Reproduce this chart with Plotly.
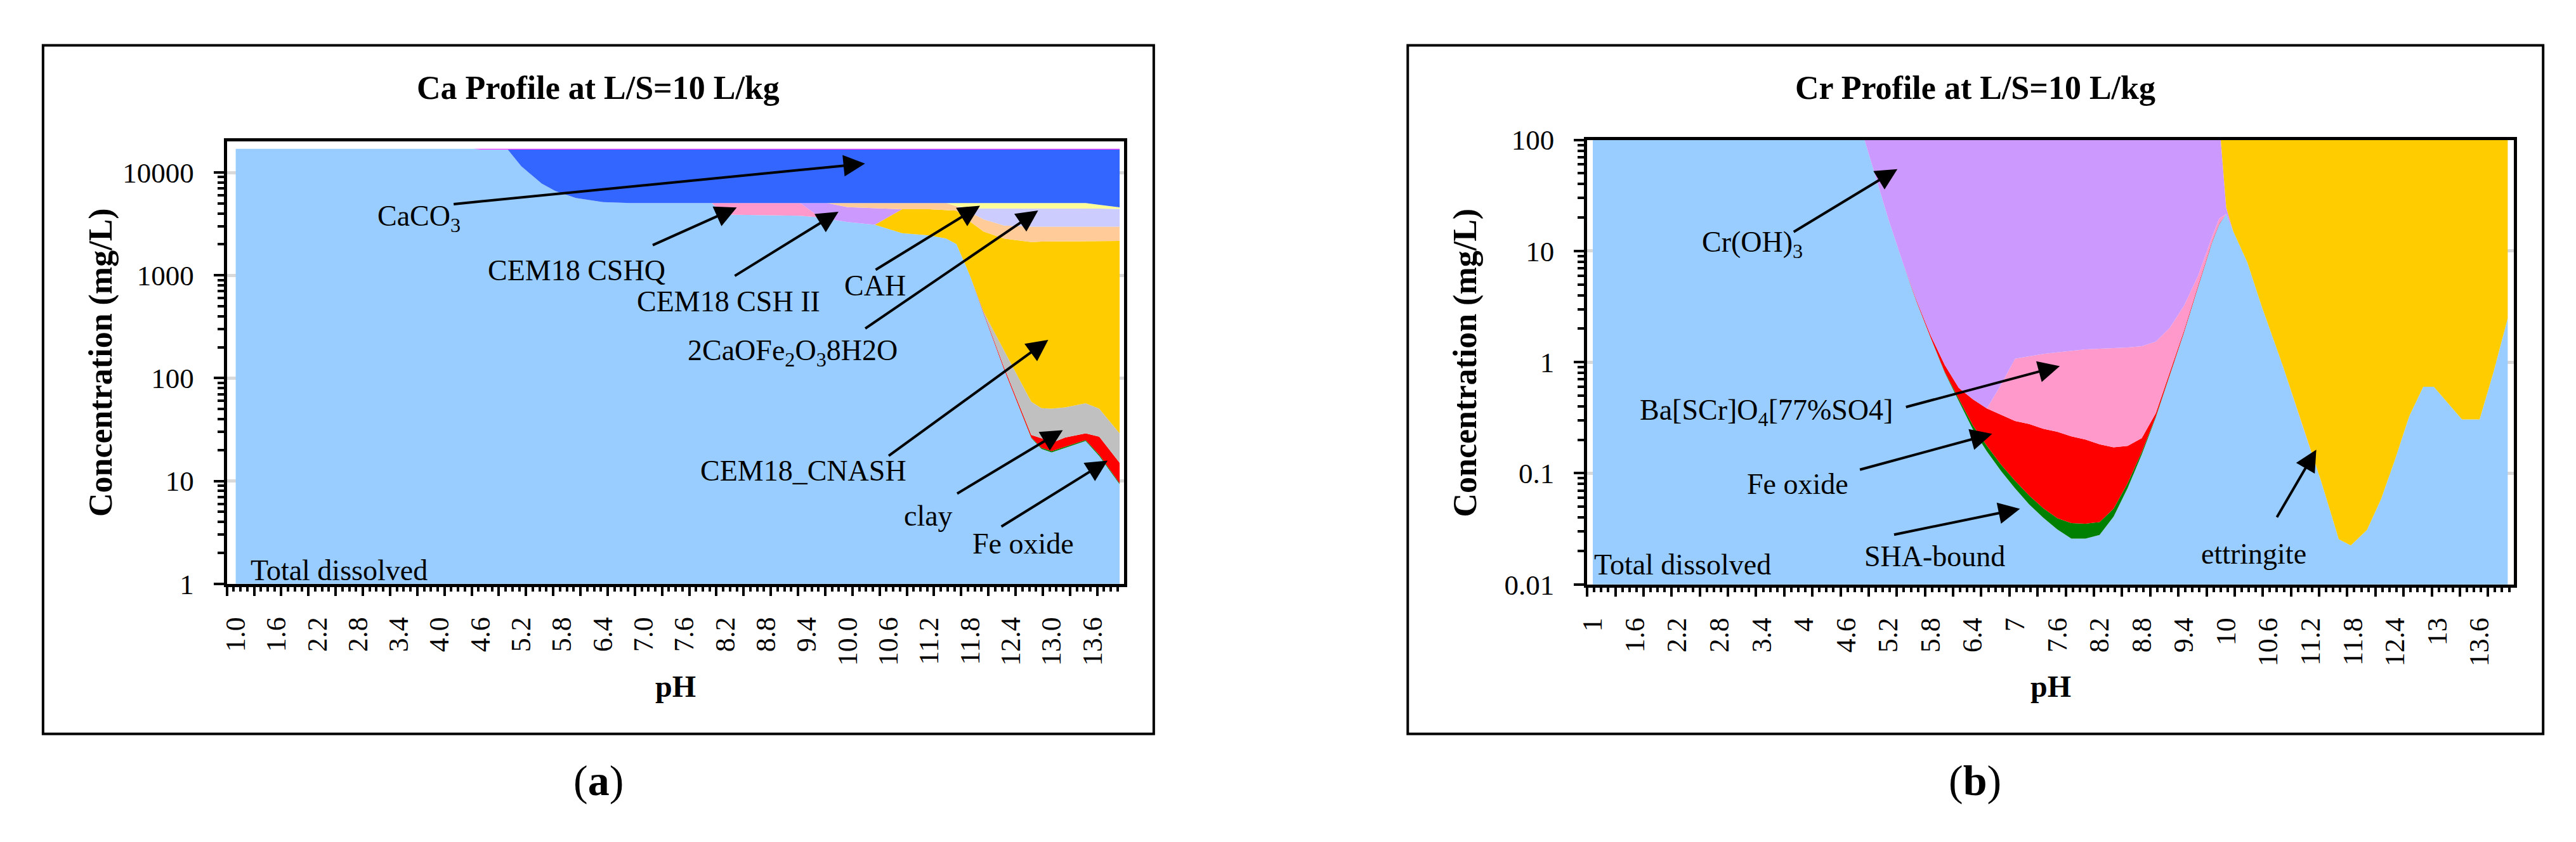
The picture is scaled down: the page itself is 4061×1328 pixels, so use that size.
import plotly.graph_objects as go

PAGE_W, PAGE_H = 4061, 1328
BODY = 8                      # default page margin around the plotly div
W, H = PAGE_W - 2 * BODY, PAGE_H - 2 * BODY
FONT = "Liberation Serif"

# ---------------- Panel (a): Ca profile at L/S=10 L/kg (mg/L, stacked) ----------------
ph_a = [1.0, 4.5, 4.6, 5.0, 5.2, 5.5, 5.7, 6.0, 6.4, 6.8, 8.0, 8.2, 9.3, 9.6, 9.7,
        10.0, 10.4, 10.8, 11.2, 11.45, 11.6, 11.8, 12.0, 12.3, 12.7, 12.85, 13.0,
        13.2, 13.5, 13.7, 14.0]
ca_dissolved = [17000, 17000, 16750, 16750, 11500, 7800, 6600, 5650, 5150, 5050,
                5050, 3900, 3800, 3650, 3550, 3300, 3100, 2570, 2450, 2280,
                2010, 990, 425, 122, 26.2, 20.5, 19, 21, 24.5, 17.5, 9.3]
ca_sha = [0, 0, 0, 0, 0, 0, 0, 0, 0, 0, 0, 0, 0, 0, 0, 0, 0, 0, 0, 0, 0, 0, 0, 0,
          0.3, 0.5, 0.5, 0.5, 0.5, 0.5, 0.2]
ca_fe_oxide = [0, 0, 0, 0, 0, 0, 0, 0, 0, 0, 0, 0, 0, 0, 0, 0, 0, 0, 0, 0, 0, 0,
               10, 5, 1.5, 5, 4, 5, 4, 9, 5.5]
ca_clay = [0, 0, 0, 0, 0, 0, 0, 0, 0, 0, 0, 0, 0, 0, 0, 0, 0, 0, 0, 0, 0, 0,
           5, 58, 31, 25, 27, 25.5, 28, 23.5, 14]
ca_cnash = [0, 0, 0, 0, 0, 0, 0, 0, 0, 0, 0, 0, 0, 0, 0, 0, 0,
            1820, 1940, 2050, 2250, 2340, 2220, 2095, 2051, 2079, 2080, 2078, 2083, 2100, 2131]
ca_cshq = [0, 0, 0, 0, 0, 0, 0, 0, 0, 0, 0, 1150, 1250,
           0, 0, 0, 0, 0, 0, 0, 0, 0, 0, 0, 0, 0, 0, 0, 0, 0, 0]
ca_csh2 = [0, 0, 0, 0, 0, 0, 0, 0, 0, 0, 0, 0, 0, 1400, 1500, 1300, 1380,
           0, 0, 0, 0, 0, 0, 0, 0, 0, 0, 0, 0, 0, 0]
ca_other = [0, 0, 0, 0, 0, 0, 0, 0, 0, 0, 0, 0, 0, 0, 0,
            450, 570, 660, 660, 720, 440, 770, 840, 770, 860, 840, 840, 840, 830, 820, 810]
ca_c2f = [0, 0, 0, 0, 0, 0, 0, 0, 0, 0, 0, 0, 0, 0, 0, 0, 0, 0, 0, 0, 0,
          380, 980, 1430, 1510, 1510, 1510, 1510, 1510, 1480, 1460]
ca_cah = [0, 0, 0, 0, 0, 0, 0, 0, 0, 0, 0, 0, 0, 0, 0, 0, 0, 0, 0, 0,
          350, 570, 570, 570, 570, 570, 570, 570, 570, 400, 150]
ca_caco3 = [0, 0, 0, 0, 5250, 8950, 10150, 11100, 11600, 11700,
            11700, 11700, 11700, 11700, 11700, 11700, 11700, 11700, 11700, 11700,
            11700, 11700, 11700, 11700, 11700, 11700, 11700, 11700, 11700, 11900, 12170]
ca_minor = [0, 0, 250, 250, 250, 250, 250, 250, 250, 250, 250, 250, 250, 250, 250, 250,
            250, 250, 250, 250, 250, 250, 250, 250, 250, 250, 250, 250, 250, 250, 250]

ca_layers = [
    ("Total dissolved", ca_dissolved, "#99CCFF"),
    ("SHA-bound", ca_sha, "#008000"),
    ("Fe oxide", ca_fe_oxide, "#FF0000"),
    ("clay", ca_clay, "#C0C0C0"),
    ("CEM18_CNASH", ca_cnash, "#FFCC00"),
    ("CEM18 CSHQ", ca_cshq, "#FF99CC"),
    ("CEM18 CSH II", ca_csh2, "#CC99FF"),
    ("other", ca_other, "#FFCC99"),
    ("2CaOFe2O38H2O", ca_c2f, "#CCCCFF"),
    ("CAH", ca_cah, "#FFFF99"),
    ("CaCO3", ca_caco3, "#3366FF"),
    ("minor", ca_minor, "#FF00FF"),
]

# ---------------- Panel (b): Cr profile at L/S=10 L/kg (mg/L, stacked) ----------------
ph_b = [1.0, 4.7, 4.86, 5.0, 5.2, 5.4, 5.6, 5.8, 6.0, 6.2, 6.4, 6.6, 6.8, 7.0, 7.2, 7.4,
        7.6, 7.8, 8.0, 8.2, 8.4, 8.6, 8.8, 9.0, 9.2, 9.4, 9.6, 9.8, 9.9, 10.0, 10.1,
        10.3, 10.5, 10.8, 11.1, 11.35, 11.6, 11.77, 12.0, 12.2, 12.4, 12.6, 12.8,
        12.95, 13.35, 13.6, 13.8, 14.0]
cr_dissolved = [150, 150, 100, 51.3, 19.3, 8.0, 3.5, 1.66, 0.807, 0.446,
                0.248, 0.157, 0.105, 0.0731, 0.0525, 0.0398, 0.0313, 0.0258, 0.0258, 0.0279,
                0.0408, 0.0739, 0.1476, 0.319, 0.778, 1.85, 4.75, 12.05, 17.4, 21.5,
                15.0, 7.9, 3.23, 0.944, 0.249, 0.0843, 0.0255, 0.0224, 0.0309, 0.0586,
                0.134, 0.326, 0.601, 0.601, 0.305, 0.305, 0.822, 2.48]
cr_sha = [0, 0, 0, 0, 0, 0, 0, 0,
          0.010, 0.020, 0.022, 0.0196, 0.0149, 0.0126, 0.0105, 0.0088, 0.0082, 0.0098,
          0.0094, 0.0085, 0.0072, 0.0076, 0.0076, 0.0046,
          0, 0, 0, 0, 0, 0, 0, 0, 0, 0, 0, 0, 0, 0, 0, 0, 0, 0, 0, 0, 0, 0, 0, 0]
cr_fe_oxide = [0, 0, 0, 0, 0, 0,
               0.08, 0.08, 0.126, 0.121, 0.193, 0.206, 0.217, 0.210, 0.214, 0.203, 0.197,
               0.179, 0.166, 0.146, 0.123, 0.095, 0.052, 0.024, 0.04, 0.069, 0.137, 0.22, 0.22,
               0, 0, 0, 0, 0, 0, 0, 0, 0, 0, 0, 0, 0, 0, 0, 0, 0, 0, 0, 0]
cr_ba_scro4 = [0, 0, 0, 0, 0, 0, 0, 0, 0, 0, 0, 0,
               0.289, 0.778, 0.853, 0.931, 0.986, 1.048, 1.102, 1.136, 1.166, 1.178, 1.183,
               1.184, 1.228, 1.295, 1.1, 1.2, 1.92,
               0, 0, 0, 0, 0, 0, 0, 0, 0, 0, 0, 0, 0, 0, 0, 0, 0, 0, 0, 0]
cr_cr_oh3 = [0, 0, 50, 99, 131, 142, 146, 148, 149,
             149, 149, 149, 149, 149, 149, 149, 149, 149, 149, 149, 149, 149, 149, 149,
             148, 147, 144, 136, 130, 3,
             0, 0, 0, 0, 0, 0, 0, 0, 0, 0, 0, 0, 0, 0, 0, 0, 0, 0]
cr_ettringite = [0, 0, 0, 0, 0, 0, 0, 0, 0, 0, 0, 0, 0, 0, 0, 0, 0, 0, 0, 0, 0, 0, 0, 0,
                 0, 0, 0, 0, 0, 126, 135, 142, 147,
                 149, 149, 149, 149, 149, 149, 149, 149, 149, 149, 149, 149, 149, 149, 149, 148]

cr_layers = [
    ("Total dissolved", cr_dissolved, "#99CCFF"),
    ("SHA-bound", cr_sha, "#008000"),
    ("Fe oxide", cr_fe_oxide, "#FF0000"),
    ("Ba[SCr]O4[77%SO4]", cr_ba_scro4, "#FF99CC"),
    ("Cr(OH)3", cr_cr_oh3, "#CC99FF"),
    ("ettringite", cr_ettringite, "#FFCC00"),
]

# x tick labels
tick_ph = [1.0, 1.6, 2.2, 2.8, 3.4, 4.0, 4.6, 5.2, 5.8, 6.4, 7.0, 7.6, 8.2, 8.8, 9.4,
           10.0, 10.6, 11.2, 11.8, 12.4, 13.0, 13.6]
ticktext_a = ["1.0", "1.6", "2.2", "2.8", "3.4", "4.0", "4.6", "5.2", "5.8", "6.4", "7.0",
              "7.6", "8.2", "8.8", "9.4", "10.0", "10.6", "11.2", "11.8", "12.4", "13.0", "13.6"]
ticktext_b = ["1", "1.6", "2.2", "2.8", "3.4", "4", "4.6", "5.2", "5.8", "6.4", "7",
              "7.6", "8.2", "8.8", "9.4", "10", "10.6", "11.2", "11.8", "12.4", "13", "13.6"]
ytick_a = [1, 10, 100, 1000, 10000]
ytext_a = ["1", "10", "100", "1000", "10000"]
ytick_b = [0.01, 0.1, 1, 10, 100]
ytext_b = ["0.01", "0.1", "1", "10", "100"]

fig = go.Figure()

for name, vals, col in ca_layers:
    fig.add_trace(go.Scatter(x=ph_a, y=vals, name=name, mode="lines", stackgroup="a",
                             line=dict(width=0, color=col), fillcolor=col,
                             xaxis="x", yaxis="y", showlegend=False, hoverinfo="skip"))
for name, vals, col in cr_layers:
    fig.add_trace(go.Scatter(x=ph_b, y=vals, name=name, mode="lines", stackgroup="b",
                             line=dict(width=0, color=col), fillcolor=col,
                             xaxis="x2", yaxis="y2", showlegend=False, hoverinfo="skip"))
# carriers for the extra tick-mark axes
for xa, ya in (("x3", "y"), ("x5", "y"), ("x4", "y2"), ("x6", "y2")):
    fig.add_trace(go.Scatter(x=[None], y=[None], xaxis=xa, yaxis=ya, showlegend=False,
                             hoverinfo="skip"))

# page-pixel -> paper fraction
def px_x(v):
    return (v - BODY) / W

def px_y(v):
    return 1 - (v - BODY) / H

# geometry (page pixels)
A_L, A_R, A_T, A_B = 343, 1763, 207, 932
B_L, B_R, B_T, B_B = 2496, 3963, 204, 933
XR_A = [0.87, 14.065]
XR_B = [0.92, 14.09]

minor_a = [m * 10 ** e for e in range(0, 5) for m in range(2, 10)]
minor_b = [m * 10.0 ** e for e in range(-2, 2) for m in range(2, 10)]

def xmain(domain, rng, ticktext):
    return dict(domain=domain, range=rng, tickmode="array", tickvals=tick_ph,
                ticktext=ticktext, tickangle=-90, ticks="outside", ticklen=30,
                tickcolor="rgba(0,0,0,0)", tickfont=dict(family=FONT, size=44, color="black"),
                showline=True, linewidth=5, linecolor="black", mirror=True,
                showgrid=False, zeroline=False, fixedrange=True)

def xticks(rng, t0, dt, ln, over, anchor):
    return dict(overlaying=over, anchor=anchor, range=rng, tickmode="linear", tick0=t0,
                dtick=dt, ticks="outside", ticklen=ln, tickwidth=4, tickcolor="black",
                showticklabels=False, showline=False, showgrid=False, zeroline=False)

def ymain(domain, rng, tv, tt, minor_vals):
    return dict(domain=domain, type="log", range=rng, tickmode="array", tickvals=tv,
                ticktext=tt, ticks="outside", ticklen=16, tickwidth=4, tickcolor="black",
                tickfont=dict(family=FONT, size=45, color="black"), ticklabelstandoff=22,
                showline=True, linewidth=5, linecolor="black", mirror=True,
                showgrid=True, gridcolor="#D9D9D9", gridwidth=5, zeroline=False,
                minor=dict(tickmode="array", tickvals=minor_vals, ticks="outside",
                           ticklen=10, tickwidth=4, tickcolor="black", showgrid=False))

fig.update_layout(
    width=W, height=H, margin=dict(l=0, r=0, t=0, b=0),
    paper_bgcolor="white", plot_bgcolor="white", showlegend=False,
    font=dict(family=FONT, color="black"),
    xaxis=xmain([px_x(A_L), px_x(A_R)], XR_A, ticktext_a),
    xaxis2=xmain([px_x(B_L), px_x(B_R)], XR_B, ticktext_b) | dict(anchor="y2"),
    xaxis3=xticks(XR_A, 0.87, 0.1, 11, "x", "y"),
    xaxis5=xticks(XR_A, 0.87, 0.4, 18, "x", "y"),
    xaxis4=xticks(XR_B, 0.92, 0.1, 11, "x2", "y2"),
    xaxis6=xticks(XR_B, 0.92, 0.4, 18, "x2", "y2"),
    yaxis=ymain([px_y(A_B), px_y(A_T)], [0, 4.3], ytick_a, ytext_a, minor_a) | dict(anchor="x"),
    yaxis2=ymain([px_y(B_B), px_y(B_T)], [-2, 2], ytick_b, ytext_b, minor_b) | dict(anchor="x2"),
)

shapes = [
    dict(type="rect", xref="paper", yref="paper", x0=px_x(52), x1=px_x(1810),
         y0=px_y(1178), y1=px_y(49), line=dict(color="black", width=4)),
    dict(type="rect", xref="paper", yref="paper", x0=px_x(2212), x1=px_x(4009),
         y0=px_y(1178), y1=px_y(49), line=dict(color="black", width=4)),
]
fig.update_layout(shapes=shapes)

ann = []

def text(x, y, s, size=46, bold=False, xanchor="center", angle=0):
    ann.append(dict(x=px_x(x), y=px_y(y), xref="paper", yref="paper", text=s,
                    showarrow=False, xanchor=xanchor, yanchor="middle", textangle=angle,
                    font=dict(family=FONT, size=size, color="black",
                              weight="bold" if bold else "normal")))

def arrow(hx, hy, tx, ty):
    ann.append(dict(x=px_x(hx), y=px_y(hy), xref="paper", yref="paper", text="",
                    showarrow=True, ax=tx - hx, ay=ty - hy, axref="pixel", ayref="pixel",
                    arrowhead=2, arrowsize=1.7, arrowwidth=4, arrowcolor="black"))

# titles
text(931, 119, "Ca Profile at L/S=10 L/kg", size=52, bold=True)
text(3110, 119, "Cr Profile at L/S=10 L/kg", size=52, bold=True)
# axis titles
text(143, 569, "Concentration (mg/L)", size=52, bold=True, angle=-90)
text(2303, 569, "Concentration (mg/L)", size=52, bold=True, angle=-90)
text((A_L + A_R) / 2, 1100, "pH", size=48, bold=True)
text((B_L + B_R) / 2, 1100, "pH", size=48, bold=True)
# panel letters
text(931, 1255, "(<b>a</b>)", size=68)
text(3110, 1255, "(<b>b</b>)", size=68)

# panel (a) labels
text(378, 910, "Total dissolved", size=46, xanchor="left")
text(647, 332, "CaCO<sub>3</sub>")
text(897, 418, "CEM18 CSHQ")
text(1137, 469, "CEM18 CSH II")
text(1369, 443, "CAH")
text(1238, 553, "2CaOFe<sub>2</sub>O<sub>3</sub>8H2O")
text(1255, 747, "CEM18_CNASH")
text(1453, 820, "clay")
text(1603, 866, "Fe oxide")
arrow(1353, 243, 703, 307)
arrow(1150, 315, 1016, 375)
arrow(1311, 322, 1146, 424)
arrow(1535, 312, 1369, 414)
arrow(1627, 320, 1353, 507)
arrow(1643, 532, 1390, 716)
arrow(1666, 680, 1498, 781)
arrow(1737, 730, 1568, 835)

# panel (b) labels
text(2505, 900, "Total dissolved", size=46, xanchor="left")
text(2757, 375, "Cr(OH)<sub>3</sub>")
text(2779, 650, "Ba[SCr]O<sub>4</sub>[77%SO4]")
text(2829, 769, "Fe oxide")
text(3046, 887, "SHA-bound")
text(3551, 883, "ettringite")
arrow(2987, 252, 2822, 352)
arrow(3244, 575, 3000, 640)
arrow(3137, 686, 2927, 743)
arrow(3181, 809, 2981, 850)
arrow(3650, 712, 3587, 820)

fig.update_layout(annotations=ann)

fig.write_html("out.html")
